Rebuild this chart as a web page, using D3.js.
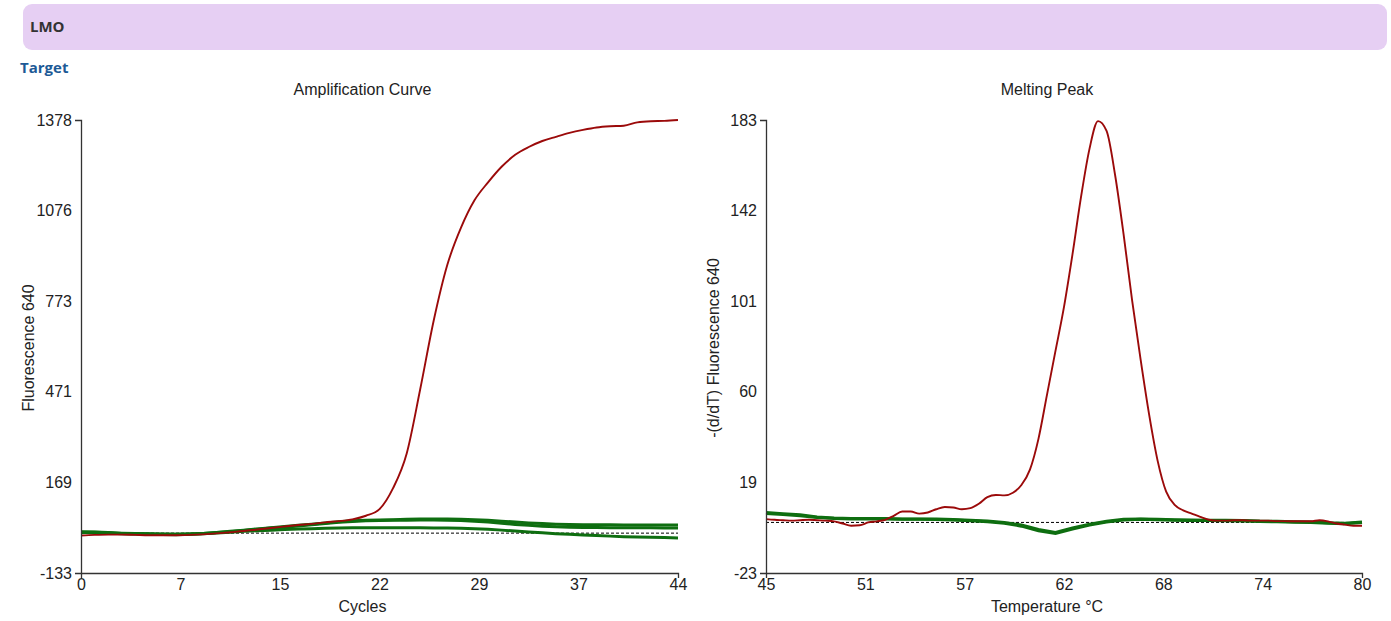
<!DOCTYPE html>
<html>
<head>
<meta charset="utf-8">
<script src="https://cdn.jsdelivr.net/npm/d3@7"></script>
<style>
  body { margin: 0; background: #fff; }
  text { font-family: "Liberation Sans", Arial, sans-serif; fill: #222; }
  .hdr { font-family: "Open Sans", "DejaVu Sans", sans-serif; font-weight: bold; }
</style>
</head>
<body>
<svg id="vis"></svg>
<script>
const SVG = d3.select('#vis');
const WIDTH = 1391;
const HEIGHT = 621;

// amplification: cycles and fluorescence
const cycles = [0,1,2,3,4,5,6,7,8,9,10,11,12,13,14,15,16,17,18,19,20,21,22,23,24,25,26,27,28,29,30,31,32,33,34,35,36,37,38,39,40,41,42,43,44];
const ampRed = [-8,-6,-5,-5,-6,-7,-7,-7,-6,-4,-1,3,7,12,17,22,27,31,36,40,46,58,80,150,265,480,710,895,1018,1110,1170,1222,1262,1288,1308,1322,1335,1345,1353,1357,1359,1370,1374,1375,1378];
const ampGreenA = [5,4,2,0,-1,-2,-3,-4,-3,-1,2,6,10,14,18,22,26,30,34,38,41,43,44,45,46,47,47,47,46,45,43,40,37,34,32,30,29,28,28,28,27,27,27,27,27];
const ampGreenB = [3,3,1,-1,-2,-3,-4,-4,-3,-1,2,5,9,13,17,20,24,28,32,36,39,41,42,43,43,44,44,43,42,40,37,33,29,26,23,21,20,19,19,18,18,18,18,17,17];
const ampGreenC = [2,1,0,-2,-3,-4,-5,-5,-4,-2,0,3,6,8,10,12,14,15,16,17,18,18,18,18,18,18,17,17,16,15,13,10,7,4,1,-2,-4,-6,-8,-10,-12,-13,-14,-15,-16];

// melting peak: temperature and -(d/dT)
const meltTemps = [45,45.5,46,46.5,47,47.5,48,48.5,49,49.5,50,50.5,51,51.5,52,52.5,53,53.5,54,54.5,55,55.5,56,56.5,57,57.5,58,58.5,59,59.5,60,60.5,61,61.5,62,62.5,63,63.5,64,64.5,65,65.5,66,66.5,67,67.5,68,68.5,69,69.5,70,70.5,71,71.5,72,72.5,73,73.5,74,74.5,75,75.5,76,76.5,77,77.5,78,78.5,79,79.5,80];
const meltRed = [1.5,1.2,1.0,0.8,1.0,1.2,1.0,0.8,0.5,-0.5,-1.5,-1.3,0,0.5,1.2,3,5,5,4,4.5,6,7,6.8,6,6.5,8.5,11.5,12.5,12.3,13.5,17,24,38,58,78,98,122,148,170,182.5,178,158,131,101,74,49,28,14,8,5.5,4,2.5,1.2,0.8,0.8,1,1,0.8,0.8,0.8,0.6,0.6,0.5,0.5,0.5,1,0.5,-0.5,-1,-1.5,-1.5];
const greenTemps = [45,46,47,48,49,50,51,52,53,54,55,56,57,58,59,60,61,62,63,64,65,66,67,68,69,70,71,72,73,74,75,76,77,78,79,80];
const meltGreenA = [4.5,4,3.5,2.5,2,1.8,1.8,1.8,1.6,1.6,1.5,1.3,1.0,0.6,0,-1.2,-3.2,-4.6,-2.5,-0.8,0.5,1.4,1.6,1.4,1.2,1.1,1.0,1.0,0.9,0.6,0.5,0.3,0.2,-0.2,-0.4,0.2];
const meltGreenB = [4.0,3.6,3.0,2.2,1.8,1.6,1.6,1.6,1.4,1.4,1.3,1.1,0.8,0.3,-0.4,-1.7,-3.8,-5.0,-3.0,-1.2,0.2,1.1,1.4,1.2,1.0,0.9,0.9,0.8,0.7,0.4,0.3,0.1,0,-0.4,-0.6,0];

const ampXLabels = [0,7,15,22,29,37,44];
const ampYLabels = [-133,169,471,773,1076,1378];
const meltXLabels = [45,51,57,62,68,74,80];
const meltYLabels = [-23,19,60,101,142,183];

const RED = "#9b0a0a";
const GREEN = "#0e6e10";

SVG.attr("width", WIDTH).attr("height", HEIGHT);

// header bar
SVG.append("rect")
  .attr("x", 23).attr("y", 4)
  .attr("width", 1364).attr("height", 46)
  .attr("rx", 9)
  .attr("fill", "#e6cff3");
SVG.append("text").attr("class", "hdr")
  .attr("x", 30).attr("y", 32)
  .style("font-size", "15px").style("fill", "#333")
  .text("LMO");
SVG.append("text").attr("class", "hdr")
  .attr("x", 20).attr("y", 73)
  .style("font-size", "15px").style("fill", "#1d5a96")
  .text("Target");

function drawChart(opt) {
  const g = SVG.append("g");
  const x = d3.scaleLinear().domain(opt.xDomain).range([opt.left, opt.right]);
  const y = d3.scaleLinear().domain(opt.yDomain).range([573, 120]);
  const cx = (opt.left + opt.right) / 2 - 17;

  // evenly spaced tick positions, labels as shown on the instrument
  const xt = opt.xLabels.map((d, i) => opt.xDomain[0] + i * (opt.xDomain[1] - opt.xDomain[0]) / (opt.xLabels.length - 1));
  const yt = opt.yLabels.map((d, i) => opt.yDomain[0] + i * (opt.yDomain[1] - opt.yDomain[0]) / (opt.yLabels.length - 1));

  // zero baseline
  g.append("line")
    .attr("x1", x(opt.xDomain[0])).attr("x2", x(opt.xDomain[1]))
    .attr("y1", y(0)).attr("y2", y(0))
    .attr("stroke", "#000").attr("stroke-width", 1)
    .attr("stroke-dasharray", "3,2");

  const line = (xs, curve) => d3.line()
    .x((d, i) => x(xs[i]))
    .y(d => y(d))
    .curve(curve);

  opt.greens.forEach(s => {
    g.append("path").datum(s)
      .attr("d", line(opt.greenX, d3.curveLinear))
      .attr("fill", "none").attr("stroke", GREEN).attr("stroke-width", 3);
  });
  g.append("path").datum(opt.red)
    .attr("d", line(opt.redX, d3.curveMonotoneX))
    .attr("fill", "none").attr("stroke", RED).attr("stroke-width", 1.9);

  const xAxis = g.append("g")
    .attr("transform", "translate(0,573)")
    .call(d3.axisBottom(x).tickValues(xt)
      .tickFormat((d, i) => opt.xLabels[i])
      .tickSizeInner(0).tickSizeOuter(5).tickPadding(6));
  const yAxis = g.append("g")
    .attr("transform", `translate(${opt.left},0)`)
    .call(d3.axisLeft(y).tickValues(yt)
      .tickFormat((d, i) => opt.yLabels[i])
      .tickSizeInner(0).tickSizeOuter(6).tickPadding(9));
  [xAxis, yAxis].forEach(a => {
    a.select(".domain").attr("stroke", "#333").attr("stroke-width", 1.3);
    a.selectAll("text").style("font-size", "16px").style("fill", "#222")
      .attr("font-family", null);
  });

  g.append("text")
    .attr("x", cx).attr("y", 95)
    .attr("text-anchor", "middle").style("font-size", "16px")
    .text(opt.title);
  g.append("text")
    .attr("x", cx).attr("y", 612)
    .attr("text-anchor", "middle").style("font-size", "16px")
    .text(opt.xTitle);
  g.append("text")
    .attr("transform", `translate(${opt.yTitleX},348) rotate(-90)`)
    .attr("text-anchor", "middle").style("font-size", "16px")
    .text(opt.yTitle);
}

drawChart({
  left: 81, right: 678,
  xDomain: [0, 44], yDomain: [-133, 1378],
  xLabels: ampXLabels, yLabels: ampYLabels,
  redX: cycles, red: ampRed,
  greenX: cycles, greens: [ampGreenC, ampGreenB, ampGreenA],
  title: "Amplification Curve", xTitle: "Cycles",
  yTitle: "Fluorescence 640", yTitleX: 34
});

drawChart({
  left: 766, right: 1362,
  xDomain: [45, 80], yDomain: [-23, 183],
  xLabels: meltXLabels, yLabels: meltYLabels,
  redX: meltTemps, red: meltRed,
  greenX: greenTemps, greens: [meltGreenB, meltGreenA],
  title: "Melting Peak", xTitle: "Temperature °C",
  yTitle: "-(d/dT) Fluorescence 640", yTitleX: 719
});
</script>
</body>
</html>
